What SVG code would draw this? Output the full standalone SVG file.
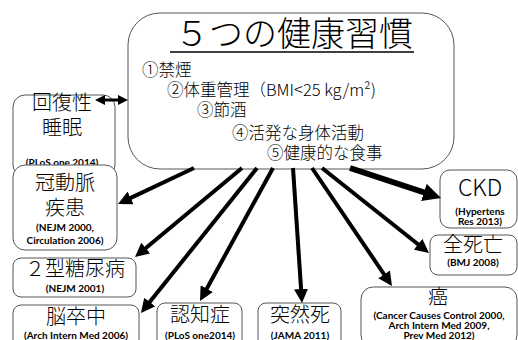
<svg xmlns="http://www.w3.org/2000/svg" width="518" height="340" viewBox="0 0 518 340">
<style>
.box{fill:#fff;stroke:#555;stroke-width:1}
.jp{font-family:"Noto Sans CJK JP",sans-serif;font-weight:300;fill:#000}
.t{font-size:20px;text-anchor:middle}
.item{font-size:16.5px}
.ref{font-family:Lato,"Liberation Sans",sans-serif;font-weight:bold;font-size:10px;text-anchor:middle;fill:#000}
.arr{stroke:#000;stroke-width:4;fill:none;marker-end:url(#ah)}
</style>
<defs>
<marker id="ah" markerUnits="userSpaceOnUse" markerWidth="14" markerHeight="14" refX="8" refY="7" orient="auto"><path d="M0,0 L14,7 L0,14 z" fill="#000"/></marker>
<marker id="ahb" markerUnits="userSpaceOnUse" markerWidth="18" markerHeight="18" refX="10" refY="9" orient="auto"><path d="M0,0 L18,9 L0,18 z" fill="#000"/></marker>
<marker id="ahs" markerUnits="userSpaceOnUse" markerWidth="10" markerHeight="10" refX="6" refY="5" orient="auto-start-reverse"><path d="M0,0 L10,5 L0,10 z" fill="#000"/></marker>
</defs>
<rect width="518" height="340" fill="#fff"/>

<g id="main">
<rect class="box" x="128" y="13" width="326" height="156" rx="32"/>
<text class="jp" x="294" y="46" font-size="34" text-anchor="middle">５つの健康習慣</text>
<line x1="170" y1="52" x2="414" y2="52" stroke="#000" stroke-width="1.5"/>
<text class="jp item" x="142" y="76">①禁煙</text>
<text class="jp item" x="167" y="96">②体重管理（BMI&lt;25 kg/m²)</text>
<text class="jp item" x="197" y="116">③節酒</text>
<text class="jp item" x="232" y="139">④活発な身体活動</text>
<text class="jp item" x="267" y="159">⑤健康的な食事</text>
</g>

<g id="sleep">
<rect class="box" x="13" y="95" width="102" height="82" rx="12"/>
<text class="jp t" x="62" y="110">回復性</text>
<text class="jp t" x="62" y="135">睡眠</text>
<text class="ref" x="62" y="166">(PLoS one 2014)</text>
</g>

<g id="chd">
<rect class="box" x="13" y="165" width="104" height="85" rx="12"/>
<text class="jp t" x="65" y="190">冠動脈</text>
<text class="jp t" x="65" y="215">疾患</text>
<text class="ref" x="65" y="231">(NEJM 2000,</text>
<text class="ref" x="65" y="244">Circulation 2006)</text>
</g>

<g id="dm">
<rect class="box" x="13" y="258" width="123" height="39" rx="8"/>
<text class="jp t" x="75" y="276">２型糖尿病</text>
<text class="ref" x="75" y="292">(NEJM 2001)</text>
</g>

<g id="stroke">
<rect class="box" x="13" y="305" width="126" height="50" rx="8"/>
<text class="jp t" x="76" y="324">脳卒中</text>
<text class="ref" x="76" y="339">(Arch Intern Med 2006)</text>
</g>

<g id="dementia">
<rect class="box" x="157" y="303" width="85" height="50" rx="8"/>
<text class="jp t" x="200" y="322">認知症</text>
<text class="ref" x="200" y="339">(PLoS one2014)</text>
</g>

<g id="scd">
<rect class="box" x="258" y="303" width="83" height="50" rx="8"/>
<text class="jp t" x="300" y="322">突然死</text>
<text class="ref" x="300" y="339">(JAMA 2011)</text>
</g>

<g id="ckd">
<rect class="box" x="440" y="170" width="77" height="58" rx="10"/>
<text class="jp" x="480" y="196" font-size="23" text-anchor="middle">CKD</text>
<text class="ref" x="480" y="215">(Hypertens</text>
<text class="ref" x="480" y="225">Res 2013)</text>
</g>

<g id="mortality">
<rect class="box" x="430" y="235" width="87" height="40" rx="8"/>
<text class="jp t" x="473" y="252">全死亡</text>
<text class="ref" x="473" y="266">(BMJ 2008)</text>
</g>

<g id="cancer">
<rect class="box" x="361" y="287" width="156" height="60" rx="12"/>
<text class="jp t" x="438" y="304">癌</text>
<text class="ref" x="439" y="319" font-size="10.5">(Cancer Causes Control 2000,</text>
<text class="ref" x="439" y="329" font-size="10.5">Arch Intern Med 2009,</text>
<text class="ref" x="439" y="339" font-size="10.5">Prev Med 2012)</text>
</g>

<g id="connectors">
<line x1="99" y1="100" x2="124" y2="100" stroke="#000" stroke-width="3" marker-start="url(#ahs)" marker-end="url(#ahs)"/>
<path class="arr" d="M194,168 L123.4,201.4"/>
<path class="arr" d="M242,168 L139.6,253.2"/>
<path class="arr" d="M257,168 L144.7,308.3"/>
<path class="arr" d="M273,168 L202.9,295.7"/>
<path class="arr" d="M293,168 L301.6,297"/>
<path class="arr" d="M312,168 L388.6,281"/>
<path class="arr" d="M322,168 L424.3,249.3"/>
<path d="M350,168 L433.4,195.5" stroke="#000" stroke-width="6" fill="none" marker-end="url(#ahb)"/>
</g>
</svg>
